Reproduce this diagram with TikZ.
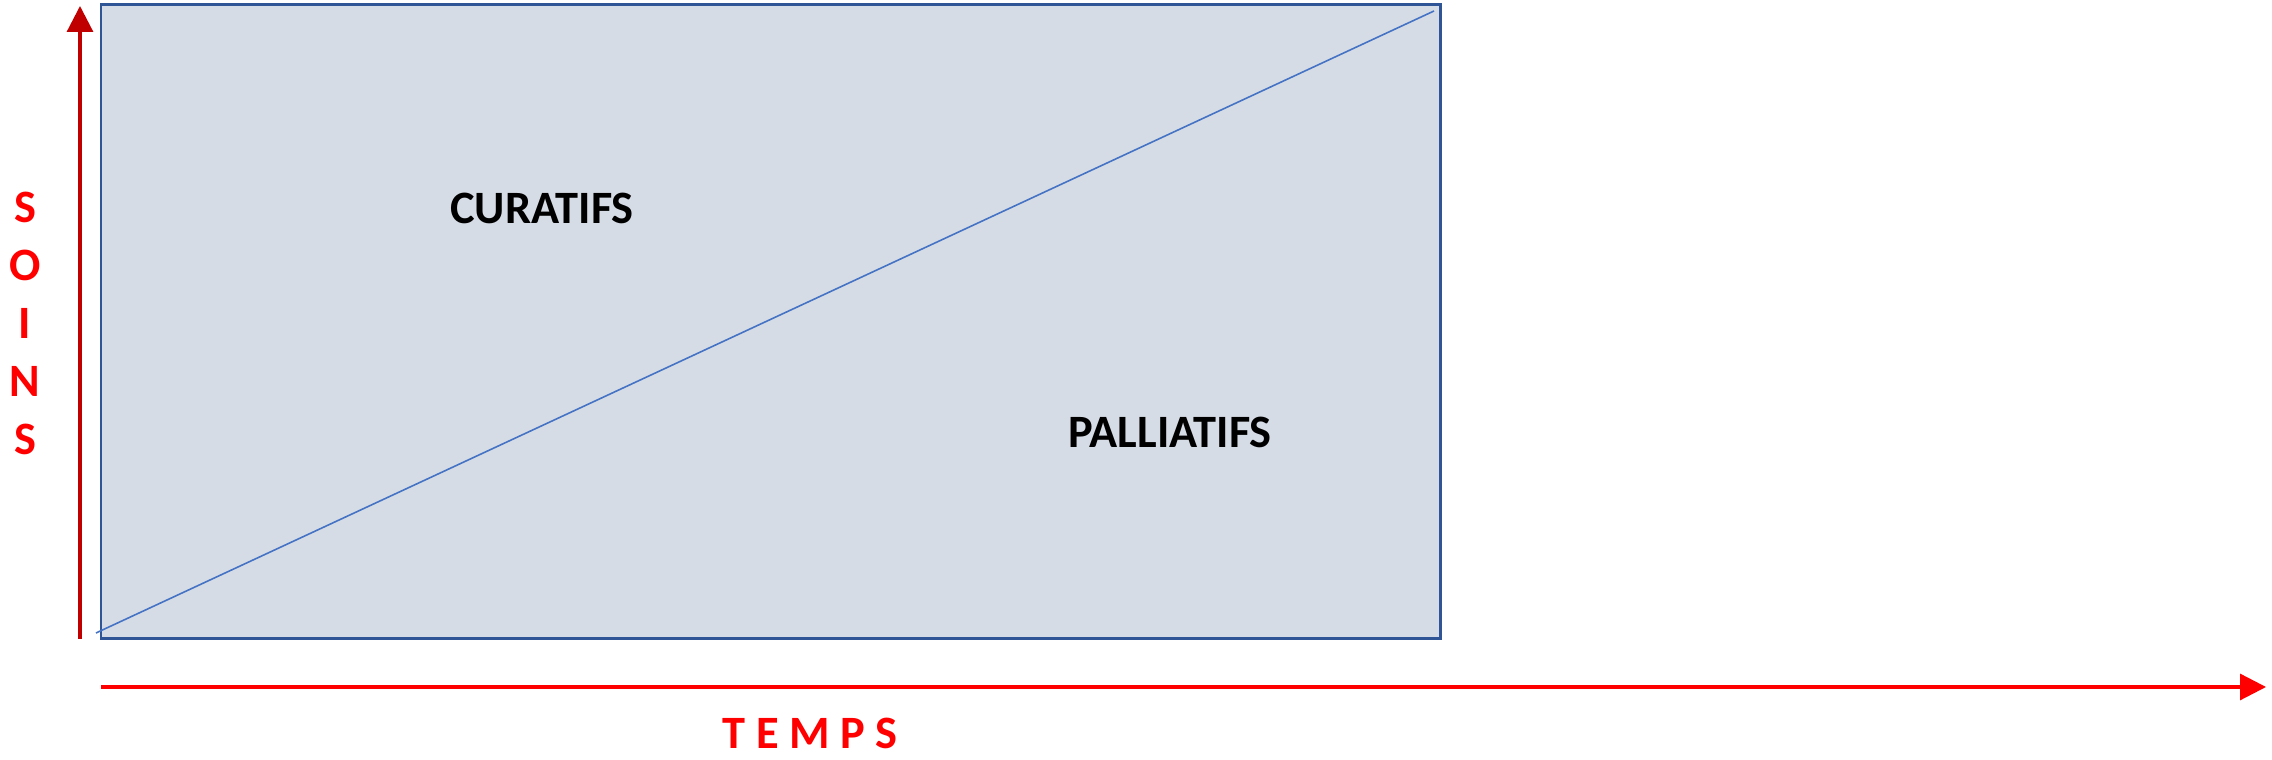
\documentclass[tikz,border=0pt]{standalone}
\usepackage{fontspec}
\setmainfont{Carlito}
\usetikzlibrary{arrows.meta}
\definecolor{boxfill}{HTML}{D6DCE5}
\definecolor{boxline}{HTML}{2F5597}
\definecolor{diagline}{HTML}{4472C4}
\definecolor{darkred}{HTML}{C00000}
\tikzstyle{label} = [font=\fontsize{13.2}{16.5}\selectfont\bfseries, inner sep=0pt]
\tikzstyle{axis} = [line width=0.9pt, -{Triangle[length=2.6mm,width=2.6mm]}]
\begin{document}
\begin{tikzpicture}
	\useasboundingbox (0,0) rectangle (22.72,7.60);
	\draw[boxline,fill=boxfill,line width=0.85pt] (1.01,1.21) rectangle (14.40,7.55);
	\coordinate (diag start) at (0.96,1.27);
	\coordinate (diag end) at (14.34,7.49);
	\draw[diagline,line width=0.45pt] (diag start) -- (diag end);
	\coordinate (soins start) at (0.80,1.21);
	\coordinate (soins end) at (0.80,7.54);
	\draw[axis,darkred] (soins start) -- (soins end);
	\coordinate (temps start) at (1.01,0.73);
	\coordinate (temps end) at (22.66,0.73);
	\draw[axis,red] (temps start) -- (temps end);
	\node[label] (curatifs) at (5.42,5.52) {CURATIFS};
	\node[label] (palliatifs) at (11.70,3.28) {PALLIATIFS};
	\node[label,red] (temps) at (8.10,0.27) {T E M P S};
	\node[label,red,align=center] (soins) at (0.25,4.37) {S\\O\\I\\N\\S};
\end{tikzpicture}
\end{document}
